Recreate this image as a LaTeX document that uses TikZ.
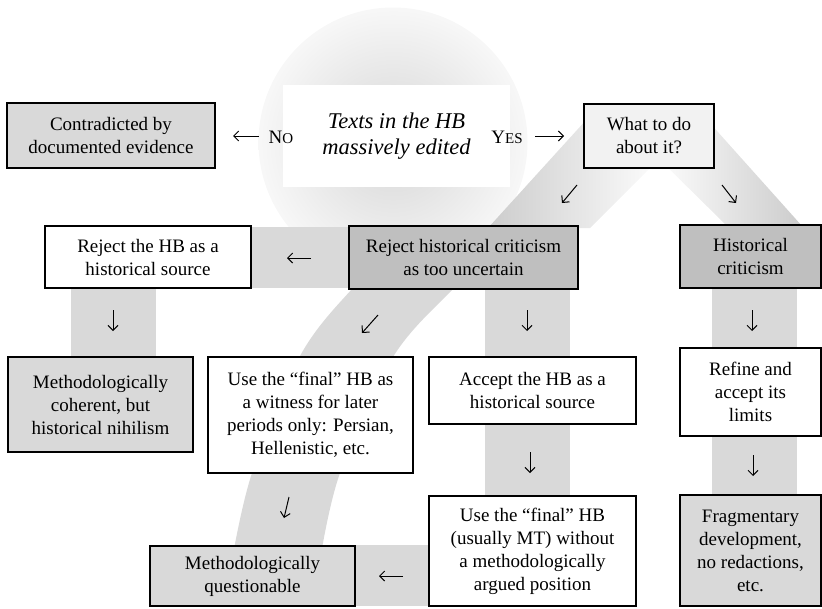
\documentclass[tikz,border=0pt]{standalone}
\usepackage{fontspec}
\setmainfont{Liberation Serif}
\usetikzlibrary{arrows.meta}
\definecolor{stripc}{HTML}{D9D9D9}
\definecolor{lightbox}{HTML}{D9D9D9}
\definecolor{darkbox}{HTML}{BFBFBF}
\definecolor{palebox}{HTML}{F2F2F2}
\pgfdeclareradialshading{glow}{\pgfpoint{0bp}{0bp}}{color(0bp)=(black!16); color(25bp)=(black!3); color(50bp)=(black!3)}
\begin{document}
\begin{tikzpicture}[x=1pt,y=-1pt,
  box/.style={draw=black, line width=1.5pt, inner sep=0pt, align=center,
              font=\fontsize{19}{23}\selectfont},
  arr/.style={line width=1pt, -{Straight Barb[length=5pt,width=10pt]}},
  lbl/.style={inner sep=0pt, font=\fontsize{19}{23}\selectfont}]
\useasboundingbox (0,0) rectangle (822,608);

% background glow circle
\shade[shading=glow] (393,142) circle (134.5);

% upper legs of the inverted V (faded)
\shade[left color=black!20, right color=white] (597,108) -- (668,150) -- (590,228) -- (488,228) -- cycle;
\shade[left color=white, right color=black!20] (650,150) -- (700,112) -- (802,226) -- (727,226) -- cycle;

% lower curved diagonal band
\fill[stripc] plot[smooth, tension=0.55] coordinates {(405,240) (352,289) (300,356) (252,473) (232,560)}
  -- plot[smooth, tension=0.55] coordinates {(320,560) (340,473) (393,357) (453,289) (505,240)} -- cycle;

% straight bands
\fill[stripc] (240,227) rectangle (360,288);
\fill[stripc] (71,288) rectangle (156,357);
\fill[stripc] (485,288) rectangle (570,497);
\fill[stripc] (712,288) rectangle (797,496);
\fill[stripc] (355,545) rectangle (429,606);

% boxes
\node[box, fill=lightbox, minimum width=208pt, minimum height=65pt] (contra) at (111,135.5) {Contradicted by\\documented evidence};
\node[inner sep=0pt, fill=white, minimum width=227pt, minimum height=102pt, align=center,
      font=\fontsize{22.5}{26}\selectfont\itshape] (texts) at (396.5,136) {Texts in the HB\\massively edited};
\node[box, fill=palebox, minimum width=130pt, minimum height=64pt] (what) at (649,136) {What to do\\about it?};
\node[box, fill=white, minimum width=206pt, minimum height=62pt] (rejhb) at (148,257) {Reject the HB as a\\historical source};
\node[box, fill=darkbox, minimum width=229pt, minimum height=63pt] (rejhc) at (463.5,257.5) {Reject historical criticism\\as too uncertain};
\node[box, fill=darkbox, minimum width=141pt, minimum height=63pt] (hc) at (750.5,256.5) {Historical\\criticism};
\node[box, fill=lightbox, minimum width=185pt, minimum height=95pt] (coherent) at (100.5,404.5) {Methodologically\\coherent, but\\historical nihilism};
\node[box, fill=white, minimum width=205pt, minimum height=116pt] (witness) at (310.5,415) {Use the “final” HB as\\a witness for later\\periods only: Persian,\\Hellenistic, etc.};
\node[box, fill=white, minimum width=207pt, minimum height=67pt] (accept) at (532.5,390.5) {Accept the HB as a\\historical source};
\node[box, fill=white, minimum width=141pt, minimum height=88pt] (refine) at (750.5,392) {Refine and\\accept its\\limits};
\node[box, fill=white, minimum width=207pt, minimum height=110pt] (mt) at (532.5,551) {Use the “final” HB\\(usually MT) without\\a methodologically\\argued position};
\node[box, fill=lightbox, minimum width=205pt, minimum height=60pt] (quest) at (252.5,576) {Methodologically\\questionable};
\node[box, fill=lightbox, minimum width=141pt, minimum height=111pt] (frag) at (750.5,550.5) {Fragmentary\\development,\\no redactions,\\etc.};

% No / Yes labels
\node[lbl, anchor=base] (no) at (281,143) {N{\fontsize{15}{15}\selectfont O}};
\node[lbl, anchor=base] (yes) at (507,143) {Y{\fontsize{15}{15}\selectfont ES}};

% arrows
\coordinate (a1s) at (259,136); \coordinate (a1e) at (233,136);
\coordinate (a2s) at (535,136); \coordinate (a2e) at (564,136);
\coordinate (a3s) at (577,185); \coordinate (a3e) at (562,203);
\coordinate (a4s) at (722,185); \coordinate (a4e) at (736,203);
\coordinate (a5s) at (311,258); \coordinate (a5e) at (287,258);
\coordinate (a6s) at (113,310); \coordinate (a6e) at (113,331);
\coordinate (a7s) at (378,315); \coordinate (a7e) at (362,333);
\coordinate (a8s) at (527,310); \coordinate (a8e) at (527,331);
\coordinate (a9s) at (752,310); \coordinate (a9e) at (752,331);
\coordinate (a10s) at (530,452); \coordinate (a10e) at (530,473);
\coordinate (a11s) at (753,455); \coordinate (a11e) at (753,476);
\coordinate (a12s) at (289,497); \coordinate (a12e) at (284,518);
\coordinate (a13s) at (403,576); \coordinate (a13e) at (379,576);
\foreach \i in {1,...,13} {\draw[arr] (a\i s) -- (a\i e);}
\end{tikzpicture}
\end{document}
